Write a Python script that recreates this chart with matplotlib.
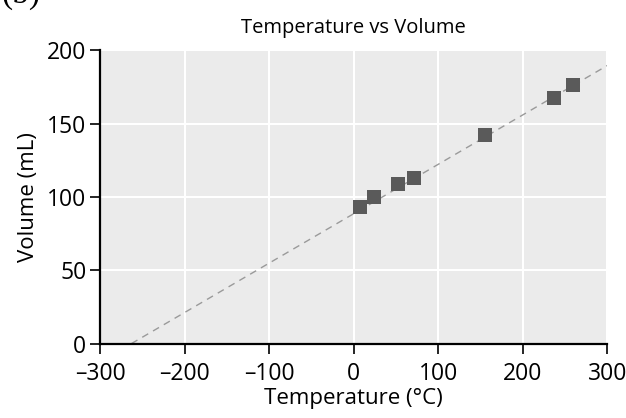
import matplotlib.pyplot as plt

# data
temps = [8, 24, 52, 71, 155, 237, 260]
volumes = [93, 100, 108.7, 113, 142, 167.5, 176.5]

# dashed trend line (extrapolated to zero volume)
trend_temps = [-263, 300]
trend_volumes = [0, 189.5]

x_ticks = [-300, -200, -100, 0, 100, 200, 300]
y_ticks = [0, 50, 100, 150, 200]

plt.rcParams['font.family'] = ['Open Sans', 'DejaVu Sans']
plt.rcParams['axes.unicode_minus'] = False

fig = plt.figure(figsize=(6.26, 4.18), dpi=100)
ax = fig.add_axes([0.16, 0.178, 0.81, 0.702])

ax.plot(trend_temps, trend_volumes, ls=(0, (5, 4)), color='#9a9a9a', lw=1, zorder=2)
ax.scatter(temps, volumes, marker='s', s=100, color='#5a5a5a', zorder=3, linewidths=0)

ax.set_facecolor('#ebebeb')
ax.set_xlim(-300, 300)
ax.set_ylim(0, 200)
ax.set_xticks(x_ticks)
ax.set_xticklabels([str(t).replace('-', '\u2013') for t in x_ticks])
ax.set_yticks(y_ticks)
ax.grid(color='white', lw=1.5)
ax.set_axisbelow(True)
for s in ['top', 'right']:
    ax.spines[s].set_visible(False)
for s in ['left', 'bottom']:
    ax.spines[s].set_linewidth(1.6)
ax.tick_params(direction='out', length=7, width=1.2, labelsize=16.5, pad=3)
ax.tick_params(axis='x', pad=6)

ax.set_xlabel('Temperature (°C)', fontsize=16, labelpad=2)
ax.set_ylabel('Volume (mL)', fontsize=16, labelpad=6)
ax.set_title('Temperature vs Volume', fontsize=14.5, pad=12)

fig.text(0.002, 0.993, '(b)', family='Liberation Serif', fontsize=24, va='baseline')

fig.savefig('out.png', dpi=100)
